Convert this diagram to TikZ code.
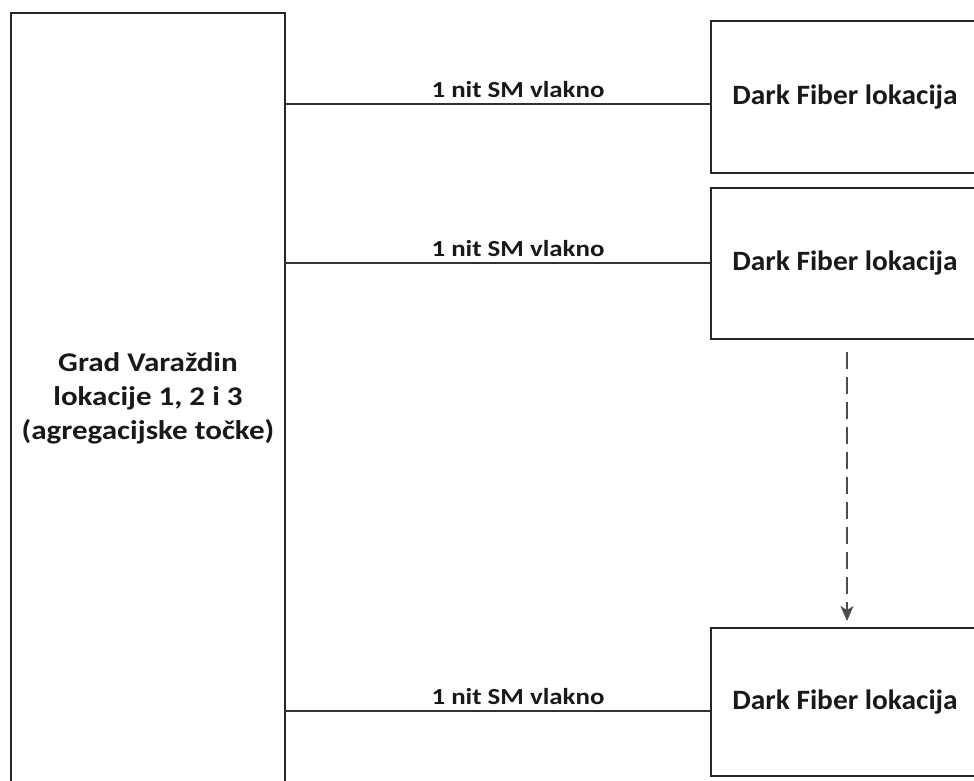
\documentclass[tikz,border=0pt]{standalone}
\usepackage{fontspec}
\setmainfont{Carlito}
\usetikzlibrary{arrows.meta}
\newcommand{\hstretch}[2]{\scalebox{#1}[1]{#2}}
\begin{document}
\begin{tikzpicture}[x=1pt,y=-1pt,
  boxline/.style={draw=black!85, line width=1.5pt},
  conn/.style={draw=black!80, line width=1.4pt},
  lbl/.style={font=\fontsize{23}{26}\selectfont\bfseries, text=black!90, anchor=base, inner sep=0pt},
  dftext/.style={font=\fontsize{28}{32}\selectfont\bfseries, text=black!90}
]
\useasboundingbox (0,0) rectangle (974,780);
% left box
\node[boxline, minimum width=274pt, minimum height=773pt, anchor=north west, inner sep=0pt] (grad) at (10,12) {};
\node[font=\fontsize{27}{34}\selectfont\bfseries, text=black!90, align=center] (gradt) at (148,398)
  {\hstretch{1.15}{Grad Varaždin}\\\hstretch{1.15}{lokacije 1, 2 i 3}\\\hstretch{1.15}{(agregacijske točke)}};
% right boxes
\node[boxline, minimum width=270pt, minimum height=152pt, anchor=north west, inner sep=0pt] (df1) at (710,20) {};
\node[boxline, minimum width=270pt, minimum height=151pt, anchor=north west, inner sep=0pt] (df2) at (710,187) {};
\node[boxline, minimum width=270pt, minimum height=148pt, anchor=north west, inner sep=0pt] (df3) at (710,627) {};
\node[dftext] (t1) at (845,97) {\hstretch{1.05}{Dark Fiber lokacija}};
\node[dftext] (t2) at (845,263) {\hstretch{1.05}{Dark Fiber lokacija}};
\node[dftext] (t3) at (845,702) {\hstretch{1.05}{Dark Fiber lokacija}};
% connectors
\coordinate (a1) at (284,104); \coordinate (b1) at (710,104);
\coordinate (a2) at (284,263); \coordinate (b2) at (710,263);
\coordinate (a3) at (284,711); \coordinate (b3) at (710,711);
\draw[conn] (a1) -- (b1);
\draw[conn] (a2) -- (b2);
\draw[conn] (a3) -- (b3);
\node[lbl] (l1) at (518,97) {\hstretch{1.17}{1 nit SM vlakno}};
\node[lbl] (l2) at (518,256) {\hstretch{1.17}{1 nit SM vlakno}};
\node[lbl] (l3) at (518,704) {\hstretch{1.17}{1 nit SM vlakno}};
% dashed arrow
\coordinate (d1) at (847,352);
\coordinate (d2) at (847,621);
\draw[draw=black!70, line width=1.3pt, dash pattern=on 17pt off 8pt, -{Stealth[length=15pt,width=13pt,inset=4pt]}] (d1) -- (d2);
\end{tikzpicture}
\end{document}
